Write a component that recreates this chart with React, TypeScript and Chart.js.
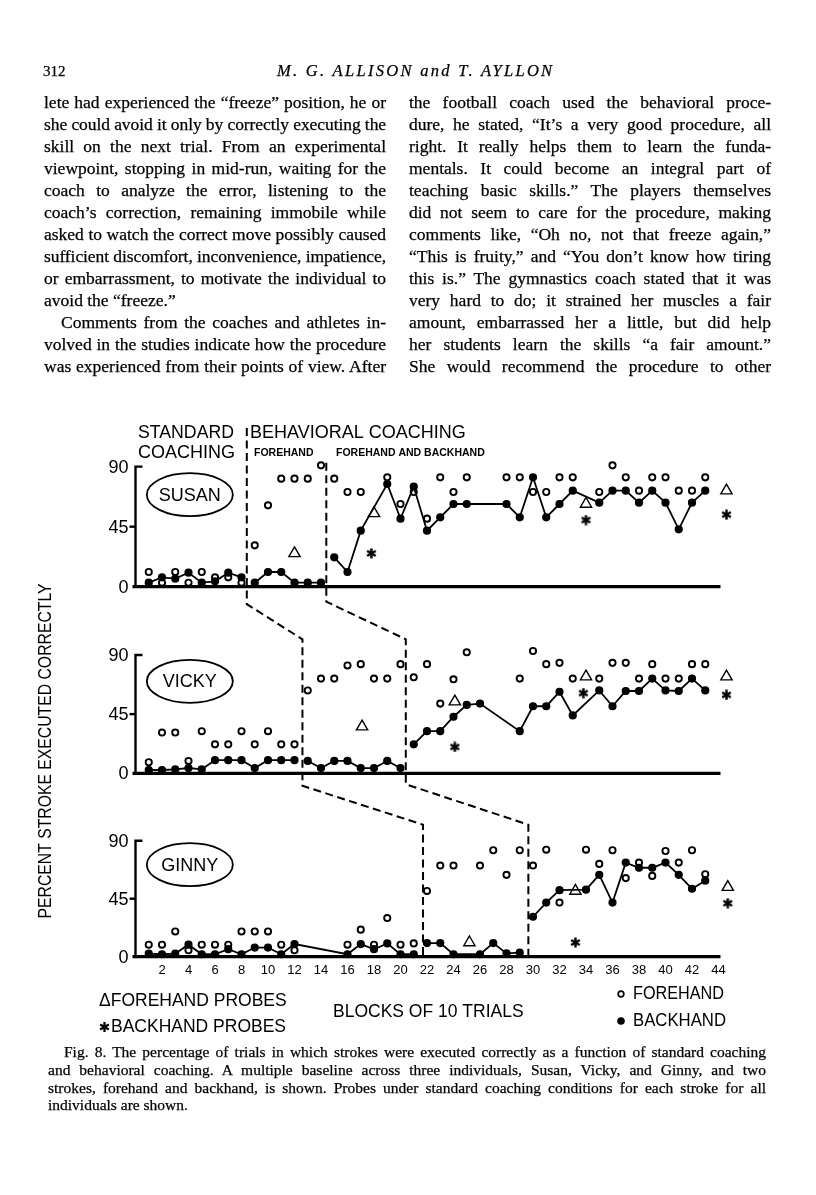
import React, { useEffect, useRef } from "react";
import { Chart, registerables } from "chart.js";
Chart.register(...registerables);

// ---------- DATA ----------
const blocks = [1, 2, 3, 4, 5, 6, 7, 8, 9, 10, 11, 12, 13, 14, 15, 16, 17, 18, 19, 20, 21, 22, 23, 24, 25, 26, 27, 28, 29, 30, 31, 32, 33, 34, 35, 36, 37, 38, 39, 40, 41, 42, 43];
const xTicks = [2, 4, 6, 8, 10, 12, 14, 16, 18, 20, 22, 24, 26, 28, 30, 32, 34, 36, 38, 40, 42, 44];
const yTicks = [0, 45, 90];

const susanForehand = [11, 3, 11, 3, 11, 7, 7, 3, 31, 61, 81, 81, 81, 91, 81, 71, 71, null, 82, 62, 71, 51, 82, 71, 82, null, null, 82, 82, 71, 71, 82, 82, null, 71, 91, 82, 72, 82, 82, 72, 72, 82];
const susanBackhand = [3, 7, 6, 10.5, 3, 4, 10.5, 7, 3, 11, 11, 3, 3, 3, 22, 11, 42, null, 77, 51, 75, 42, 52, 62, 62, null, null, 62, 52, 82, 52, 62, 72, null, 63, 72, 72, 63, 72, 63, 43, 63, 72];
const susanForeProbeBlocks = [12, 18, 34, 44.6];
const susanForeProbes = [25, 55, 62, 72];
const susanBackProbeBlocks = [17.8, 34, 44.6];
const susanBackProbes = [25, 50, 54];
const susanPhases = [8.4, 14.4];

const vickyForehand = [8.4, 31, 31, 9.4, 32, 22, 22, 32, 22, 32, 22, 22, 63, 72, 72, 82, 83, 72, 72, 83, 73, 83, 53, 71.5, 92, null, null, null, 72, 93, 83, 84, 72, null, 72, 84, 84, 72, 83, 72, 72, 83, 83];
const vickyBackhand = [2.5, 2.5, 3, 4, 3, 10, 10, 10, 4, 10, 10, 10, 9.4, 4, 9.4, 9.4, 4, 4, 9.4, 4, 22, 32, 32, 43, 52, 53, null, null, 32, 51, 51, 62, 44, null, 63, 51, 62.6, 62.6, 72, 63, 62.6, 72, 63];
const vickyForeProbeBlocks = [17.1, 24.1, 34, 44.6];
const vickyForeProbes = [35.5, 54.5, 73.5, 73.5];
const vickyBackProbeBlocks = [24.1, 33.8, 44.6];
const vickyBackProbes = [20, 61, 59.6];
const vickyPhases = [12.6, 20.4];

const ginnyForehand = [9.3, 9.3, 19.6, 5, 9.3, 9.3, 9.3, 19.6, 19.6, 19.6, 9.3, 5, null, null, null, 9.3, 21, 9.3, 30, 9.3, 10.3, 51, 70.7, 70.7, null, 70.7, 82.6, 63.5, 82.6, 70.7, 83, 42, null, 83, 72, 82.6, 61, 73, 62.7, 82, 73, 82.6, 64];
const ginnyBackhand = [2.4, 1.9, 2.4, 9.3, 1.9, 1.9, 5.8, 1.9, 7.1, 7.1, 1.9, 9.8, null, null, null, 1.9, 9.8, 5.8, 10.3, 1.9, 1.9, 10.6, 10.6, 1.9, null, 1.9, 10.6, 2.6, 3.2, 31, 42, 51.6, null, 52, 63.5, 42, 73, 69, 69, 73, 63.5, 52.7, 59];
const ginnyForeProbeBlocks = [25.2, 33.2, 44.7];
const ginnyForeProbes = [11, 51, 54];
const ginnyBackProbeBlocks = [33.2, 44.7];
const ginnyBackProbes = [11, 41.5];
const ginnyPhases = [21.7, 29.65];

// ---------- TEXT ----------
const leftLines = [
  "lete had experienced the \u201cfreeze\u201d position, he or",
  "she could avoid it only by correctly executing the",
  "skill on the next trial. From an experimental",
  "viewpoint, stopping in mid-run, waiting for the",
  "coach to analyze the error, listening to the",
  "coach\u2019s correction, remaining immobile while",
  "asked to watch the correct move possibly caused",
  "sufficient discomfort, inconvenience, impatience,",
  "or embarrassment, to motivate the individual to",
  "avoid the \u201cfreeze.\u201d",
  "Comments from the coaches and athletes in-",
  "volved in the studies indicate how the procedure",
  "was experienced from their points of view. After",
];
const rightLines = [
  "the football coach used the behavioral proce-",
  "dure, he stated, \u201cIt\u2019s a very good procedure, all",
  "right. It really helps them to learn the funda-",
  "mentals. It could become an integral part of",
  "teaching basic skills.\u201d The players themselves",
  "did not seem to care for the procedure, making",
  "comments like, \u201cOh no, not that freeze again,\u201d",
  "\u201cThis is fruity,\u201d and \u201cYou don\u2019t know how tiring",
  "this is.\u201d The gymnastics coach stated that it was",
  "very hard to do; it strained her muscles a fair",
  "amount, embarrassed her a little, but did help",
  "her students learn the skills \u201ca fair amount.\u201d",
  "She would recommend the procedure to other",
];
const captionLines = [
  "Fig. 8. The percentage of trials in which strokes were executed correctly as a function of standard coaching",
  "and behavioral coaching. A multiple baseline across three individuals, Susan, Vicky, and Ginny, and two",
  "strokes, forehand and backhand, is shown. Probes under standard coaching conditions for each stroke for all",
  "individuals are shown.",
];

const SERIF = '"Liberation Serif", "Times New Roman", serif';
const SANS = '"Liberation Sans", Arial, Helvetica, sans-serif';

function toPoints(xs: number[], ys: (number | null)[]) {
  const out: { x: number; y: number }[] = [];
  ys.forEach((v, i) => {
    if (v !== null && v !== undefined) out.push({ x: xs[i], y: v as number });
  });
  return out;
}

function makeAsterisk(size: number, lw: number) {
  const c = document.createElement("canvas");
  c.width = size;
  c.height = size;
  const g = c.getContext("2d")!;
  g.strokeStyle = "#000";
  g.lineWidth = lw;
  const r = size / 2 - 0.5;
  for (let k = 0; k < 3; k++) {
    const a = Math.PI / 2 + (k * Math.PI) / 3;
    g.beginPath();
    g.moveTo(size / 2 + r * Math.cos(a), size / 2 + r * Math.sin(a));
    g.lineTo(size / 2 - r * Math.cos(a), size / 2 - r * Math.sin(a));
    g.stroke();
  }
  return c;
}

function drawAsteriskAt(ctx: CanvasRenderingContext2D, x: number, y: number, r: number, lw: number) {
  ctx.save();
  ctx.lineWidth = lw;
  for (let k = 0; k < 3; k++) {
    const a = Math.PI / 2 + (k * Math.PI) / 3;
    ctx.beginPath();
    ctx.moveTo(x + r * Math.cos(a), y + r * Math.sin(a));
    ctx.lineTo(x - r * Math.cos(a), y - r * Math.sin(a));
    ctx.stroke();
  }
  ctx.restore();
}

const figurePlugin = {
  id: "figureDecor",
  beforeDatasetsDraw(chart: any) {
    const ctx: CanvasRenderingContext2D = chart.ctx;
    const xs = chart.scales.x;
    const panels = [
      { s: chart.scales.yS, name: "SUSAN" },
      { s: chart.scales.yV, name: "VICKY" },
      { s: chart.scales.yG, name: "GINNY" },
    ];
    ctx.save();
    ctx.fillStyle = "#000";
    ctx.strokeStyle = "#000";
    const x0 = xs.getPixelForValue(0);
    const xEnd = xs.getPixelForValue(44.15);
    panels.forEach((p) => {
      const y = (v: number) => p.s.getPixelForValue(v);
      ctx.lineWidth = 2.4;
      ctx.beginPath();
      ctx.moveTo(x0, y(0));
      ctx.lineTo(x0, y(90));
      ctx.lineTo(x0 + 7, y(90));
      ctx.stroke();
      ctx.beginPath();
      ctx.moveTo(x0 - 6, y(45));
      ctx.lineTo(x0, y(45));
      ctx.stroke();
      ctx.lineWidth = 3.2;
      ctx.beginPath();
      ctx.moveTo(x0 - 3, y(0));
      ctx.lineTo(xEnd, y(0));
      ctx.stroke();
      ctx.font = `18px ${SANS}`;
      ctx.textAlign = "right";
      ctx.textBaseline = "middle";
      yTicks.forEach((t) => ctx.fillText(String(t), x0 - 7, y(t) + 1));
      const cx = xs.getPixelForValue(4.1);
      const cy = y(0) - 92;
      ctx.lineWidth = 1.8;
      ctx.beginPath();
      ctx.ellipse(cx, cy, 43, 21.5, 0, 0, Math.PI * 2);
      ctx.stroke();
      ctx.textAlign = "center";
      ctx.fillText(p.name, cx, cy + 1, 64);
    });

    // dashed phase-change staircase
    const yS = chart.scales.yS, yV = chart.scales.yV, yG = chart.scales.yG;
    const s0 = yS.getPixelForValue(0), v0 = yV.getPixelForValue(0), g0 = yG.getPixelForValue(0);
    ctx.setLineDash([8, 4.5]);
    ctx.lineWidth = 2;
    [0, 1].forEach((i) => {
      const xS = xs.getPixelForValue(susanPhases[i]);
      const xV = xs.getPixelForValue(vickyPhases[i]);
      const xG = xs.getPixelForValue(ginnyPhases[i]);
      const top = yS.getPixelForValue(i === 0 ? 119 : 93);
      ctx.beginPath();
      ctx.moveTo(xS, top);
      ctx.lineTo(xS, s0 + (i === 0 ? 17.5 : 15));
      ctx.lineTo(xV, v0 - 134);
      ctx.lineTo(xV, v0 + (i === 0 ? 12.5 : 11));
      ctx.lineTo(xG, g0 - 132);
      ctx.lineTo(xG, g0);
      ctx.stroke();
    });
    ctx.setLineDash([]);

    // headers
    ctx.textAlign = "left";
    ctx.textBaseline = "alphabetic";
    ctx.font = `18px ${SANS}`;
    ctx.fillText("STANDARD", 138, 437.5, 96);
    ctx.fillText("BEHAVIORAL COACHING", 250, 437.5, 226);
    ctx.fillText("COACHING", 138, 458, 98);
    ctx.font = `bold 10.5px ${SANS}`;
    ctx.fillText("FOREHAND", 254, 455.5, 61);
    ctx.fillText("FOREHAND AND BACKHAND", 336, 455.5, 157);

    // y title
    ctx.save();
    ctx.translate(46, 751);
    ctx.rotate(-Math.PI / 2);
    ctx.textAlign = "center";
    ctx.textBaseline = "middle";
    ctx.font = `19px ${SANS}`;
    ctx.fillText("PERCENT STROKE EXECUTED CORRECTLY", 0, 0, 335);
    ctx.restore();

    // bottom legend
    ctx.font = `17.5px ${SANS}`;
    ctx.textAlign = "left";
    ctx.textBaseline = "middle";
    ctx.fillText("\u0394FOREHAND PROBES", 99, 1001, 188);
    drawAsteriskAt(ctx, 104.5, 1027, 5, 2.3);
    ctx.fillText("BACKHAND PROBES", 111, 1027.5, 186);
    ctx.fillText("BLOCKS OF 10 TRIALS", 333, 1012.5, 206);
    ctx.lineWidth = 1.7;
    ctx.beginPath();
    ctx.arc(621, 994, 2.8, 0, Math.PI * 2);
    ctx.stroke();
    ctx.fillText("FOREHAND", 633, 994.5, 91);
    ctx.beginPath();
    ctx.arc(621, 1021, 3.8, 0, Math.PI * 2);
    ctx.fill();
    ctx.fillText("BACKHAND", 633, 1021.5, 93);
    ctx.restore();
  },
};

function crosses(a: number, b: number, phases: number[]) {
  return phases.some((p) => (a - p) * (b - p) < 0);
}

function ChartFigure() {
  const ref = useRef<HTMLCanvasElement | null>(null);
  useEffect(() => {
    if (!ref.current) return;
    const asterisk = makeAsterisk(11, 2.5);
    const subjects = [
      { id: "yS", fore: susanForehand, back: susanBackhand, fpb: susanForeProbeBlocks, fp: susanForeProbes, bpb: susanBackProbeBlocks, bp: susanBackProbes, phases: susanPhases },
      { id: "yV", fore: vickyForehand, back: vickyBackhand, fpb: vickyForeProbeBlocks, fp: vickyForeProbes, bpb: vickyBackProbeBlocks, bp: vickyBackProbes, phases: vickyPhases },
      { id: "yG", fore: ginnyForehand, back: ginnyBackhand, fpb: ginnyForeProbeBlocks, fp: ginnyForeProbes, bpb: ginnyBackProbeBlocks, bp: ginnyBackProbes, phases: ginnyPhases },
    ];
    const datasets: any[] = [];
    subjects.forEach((s) => {
      const backPts = toPoints(blocks, s.back);
      datasets.push({
        label: s.id + " backhand",
        data: backPts,
        yAxisID: s.id,
        showLine: true,
        borderColor: "#000",
        borderWidth: 1.8,
        pointRadius: 3.4,
        pointBackgroundColor: "#000",
        pointBorderColor: "#000",
        pointBorderWidth: 1.4,
        clip: false,
        order: 0,
        segment: {
          borderColor: (c: any) =>
            crosses(backPts[c.p0DataIndex].x, backPts[c.p1DataIndex].x, s.phases) ? "rgba(0,0,0,0)" : undefined,
        },
      });
      datasets.push({
        label: s.id + " forehand",
        data: toPoints(blocks, s.fore),
        yAxisID: s.id,
        showLine: false,
        pointRadius: 3.1,
        pointBackgroundColor: "#fff",
        pointBorderColor: "#000",
        pointBorderWidth: 1.9,
        clip: false,
        order: 1,
      });
      datasets.push({
        label: s.id + " forehand probes",
        data: toPoints(s.fpb, s.fp),
        yAxisID: s.id,
        showLine: false,
        pointStyle: "triangle",
        pointRadius: 6.5,
        pointBackgroundColor: "#fff",
        pointBorderColor: "#000",
        pointBorderWidth: 1.4,
        clip: false,
        order: 2,
      });
      datasets.push({
        label: s.id + " backhand probes",
        data: toPoints(s.bpb, s.bp),
        yAxisID: s.id,
        showLine: false,
        pointStyle: asterisk,
        pointRadius: 5,
        clip: false,
        order: 2,
      });
    });

    const chart = new Chart(ref.current, {
      type: "scatter",
      data: { datasets },
      options: {
        animation: false,
        responsive: false,
        devicePixelRatio: 1,
        layout: { padding: { left: 135.5, right: 71, top: 420, bottom: 214.3 } },
        plugins: { legend: { display: false }, tooltip: { enabled: false } },
        events: [],
        scales: {
          x: {
            type: "linear",
            min: 0,
            max: 46,
            grid: { display: false, drawTicks: false },
            border: { display: false },
            afterBuildTicks: (scale: any) => {
              scale.ticks = xTicks.map((v) => ({ value: v }));
            },
            afterFit: (scale: any) => {
              scale.height = 24;
            },
            ticks: {
              autoSkip: false,
              maxRotation: 0,
              padding: 6,
              color: "#000",
              font: { family: SANS, size: 13 },
              callback: (v: any) => String(v),
            },
          },
          yS: { type: "linear", display: false, min: -277.5, max: 125 },
          yV: { type: "linear", display: false, min: -139.5, max: 268.7 },
          yG: { type: "linear", display: false, min: 0, max: 416.4 },
        },
      } as any,
      plugins: [figurePlugin as any],
    });
    return () => chart.destroy();
  }, []);
  return <canvas ref={ref} width={816} height={1195} style={{ position: "absolute", left: 0, top: 0 }} />;
}

let measureCtx: CanvasRenderingContext2D | null = null;
function measureText(text: string, font: string) {
  if (!measureCtx) measureCtx = document.createElement("canvas").getContext("2d");
  measureCtx!.font = font;
  return measureCtx!.measureText(text).width;
}

function TextLine(props: { text: string; left: number; width?: number; baseline: number; size: number; mode?: "left" | "justify" | "fit"; italic?: boolean }) {
  const { text, left, width, baseline, size, mode = "left", italic } = props;
  const font = `${italic ? "italic " : ""}${size}px ${SERIF}`;
  let letterSpacing: string | undefined;
  let align = "left";
  if (width && mode !== "left") {
    const w = measureText(text, font);
    if (mode === "fit" || w > width) {
      letterSpacing = `${(width - w) / text.length}px`;
    } else {
      align = "justify";
    }
  }
  return (
    <div
      style={{
        position: "absolute",
        left,
        top: baseline - 0.8375 * size,
        width: width,
        fontFamily: SERIF,
        fontSize: size,
        lineHeight: `${size}px`,
        fontStyle: italic ? "italic" : "normal",
        letterSpacing,
        textAlign: align,
        textAlignLast: align,
        whiteSpace: "nowrap",
        color: "#000",
        WebkitTextStroke: "0.25px #000",
      } as any}
    >
      {text}
    </div>
  );
}

export default function App() {
  const bodySize = 17.5;
  return (
    <div style={{ position: "absolute", left: 0, top: 0, width: 816, height: 1195, background: "#fff", overflow: "hidden" }}>
      <ChartFigure />
      <TextLine text="312" left={43} baseline={77} size={15} />
      <TextLine text="M. G. ALLISON and T. AYLLON" left={277} width={278} baseline={77} size={16.5} italic mode="fit" />
      {leftLines.map((t, i) => (
        <TextLine key={"l" + i} text={t} left={i === 10 ? 61 : 44} width={i === 10 ? 325 : 342} baseline={109 + 22 * i} size={bodySize} mode={i === 9 ? "left" : "justify"} />
      ))}
      {rightLines.map((t, i) => (
        <TextLine key={"r" + i} text={t} left={409} width={362} baseline={109 + 22 * i} size={bodySize} mode="justify" />
      ))}
      {captionLines.map((t, i) => (
        <TextLine key={"c" + i} text={t} left={i === 0 ? 64 : 48} width={i === 0 ? 702 : 718} baseline={1057 + 17.8 * i} size={15.5} mode={i === 3 ? "left" : "justify"} />
      ))}
    </div>
  );
}
